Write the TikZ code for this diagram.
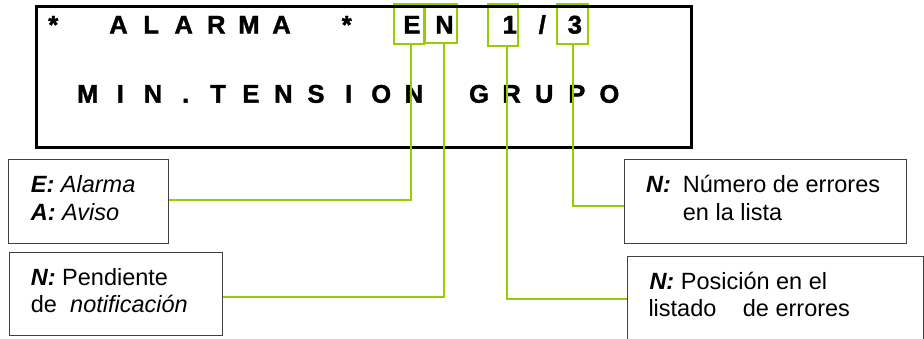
\documentclass[tikz,border=0pt]{standalone}
\usepackage{fontspec}
\setmainfont{Liberation Sans}
\newfontfamily\dispfont{Liberation Sans Bold}[FakeBold=1.6]
\definecolor{grn}{HTML}{99CC00}
\begin{document}
\begin{tikzpicture}[x=1pt,y=-1pt,
  dispch/.style={font=\dispfont\fontsize{25.5}{30}\selectfont, inner sep=0pt, anchor=base},
  hl/.style={draw=grn, line width=2pt, inner sep=0pt, anchor=north west},
  conn/.style={draw=grn, line width=2pt},
  note/.style={draw=black!75, line width=1pt, inner sep=0pt, anchor=north west},
  lbl/.style={font=\fontsize{23.5}{28}\selectfont, inner sep=0pt, anchor=base west}]
\useasboundingbox (0,0) rectangle (924,338);
\clip (0,0) rectangle (924,338);
% highlight boxes
\node[hl, minimum width=30.6pt, minimum height=39.4pt] (gE) at (392.7,3.3) {};
\node[hl, minimum width=31.4pt, minimum height=39pt] (gN) at (424.3,3) {};
\node[hl, minimum width=30.6pt, minimum height=42pt] (g1) at (486.7,3) {};
\node[hl, minimum width=31pt, minimum height=40pt] (g3) at (555.7,3) {};
% display frame
\node[draw, line width=3pt, minimum width=655pt, minimum height=141pt, anchor=north west, inner sep=0pt] (disp) at (35,5) {};
% display text
\foreach \c/\i in {{*}/0,A/2,L/3,A/4,R/5,M/6,A/7,{*}/9,E/11,N/12,1/14,{\slash}/15,3/16}
  \node[dispch] (a\i) at ({53.3+32.6*\i},33.5) {\c};
\foreach \c/\i in {M/1,I/2,N/3,{.}/4,T/5,E/6,N/7,S/8,I/9,O/10,N/11,G/13,R/14,U/15,P/16,O/17}
  \node[dispch] (b\i) at ({55.2+32.6*\i},102.7) {\c};
% note boxes
\node[note, minimum width=159.4pt, minimum height=83.4pt] (n1) at (8.3,159.3) {};
\node[note, minimum width=213pt, minimum height=83.3pt] (n2) at (9.3,251.7) {};
\node[note, minimum width=281.7pt, minimum height=83.4pt] (n3) at (624,159.3) {};
\node[note, minimum width=296pt, minimum height=82.6pt] (n4) at (627.3,256) {};
% labels
\node[lbl] (t1a) at (30.7,192) {\textbf{\textit{E:}} \textit{Alarma}};
\node[lbl] (t1b) at (30.7,220.5) {\textbf{\textit{A:}} \textit{Aviso}};
\node[lbl] (t2a) at (30.7,285) {\textbf{\textit{N:}} Pendiente};
\node[lbl] (t2b) at (30.7,312) {de};
\node[lbl] (t2c) at (70,312) {\textit{notificación}};
\node[lbl] (t3a) at (646,192.7) {\textbf{\textit{N:}}};
\node[lbl] (t3b) at (682.7,192.7) {Número de errores};
\node[lbl] (t3c) at (682.7,220) {en la lista};
\node[lbl] (t4a) at (649.3,289.3) {\textbf{\textit{N:}} Posición en el};
\node[lbl] (t4b) at (648.3,316.7) {listado};
\node[lbl] (t4c) at (742.7,316.7) {de errores};
% connectors
\draw[conn] ([xshift=2pt]gE.south) |- ([yshift=2pt]n1.east);
\draw[conn] ([xshift=3pt]gN.south) |- ([yshift=-2.65pt]n2.east);
\draw[conn] ([xshift=4pt]g1.south) |- ([yshift=-0.7pt]n4.west);
\draw[conn] ([xshift=1pt]g3.south) |- ([yshift=-4pt]n3.west);
\end{tikzpicture}
\end{document}
